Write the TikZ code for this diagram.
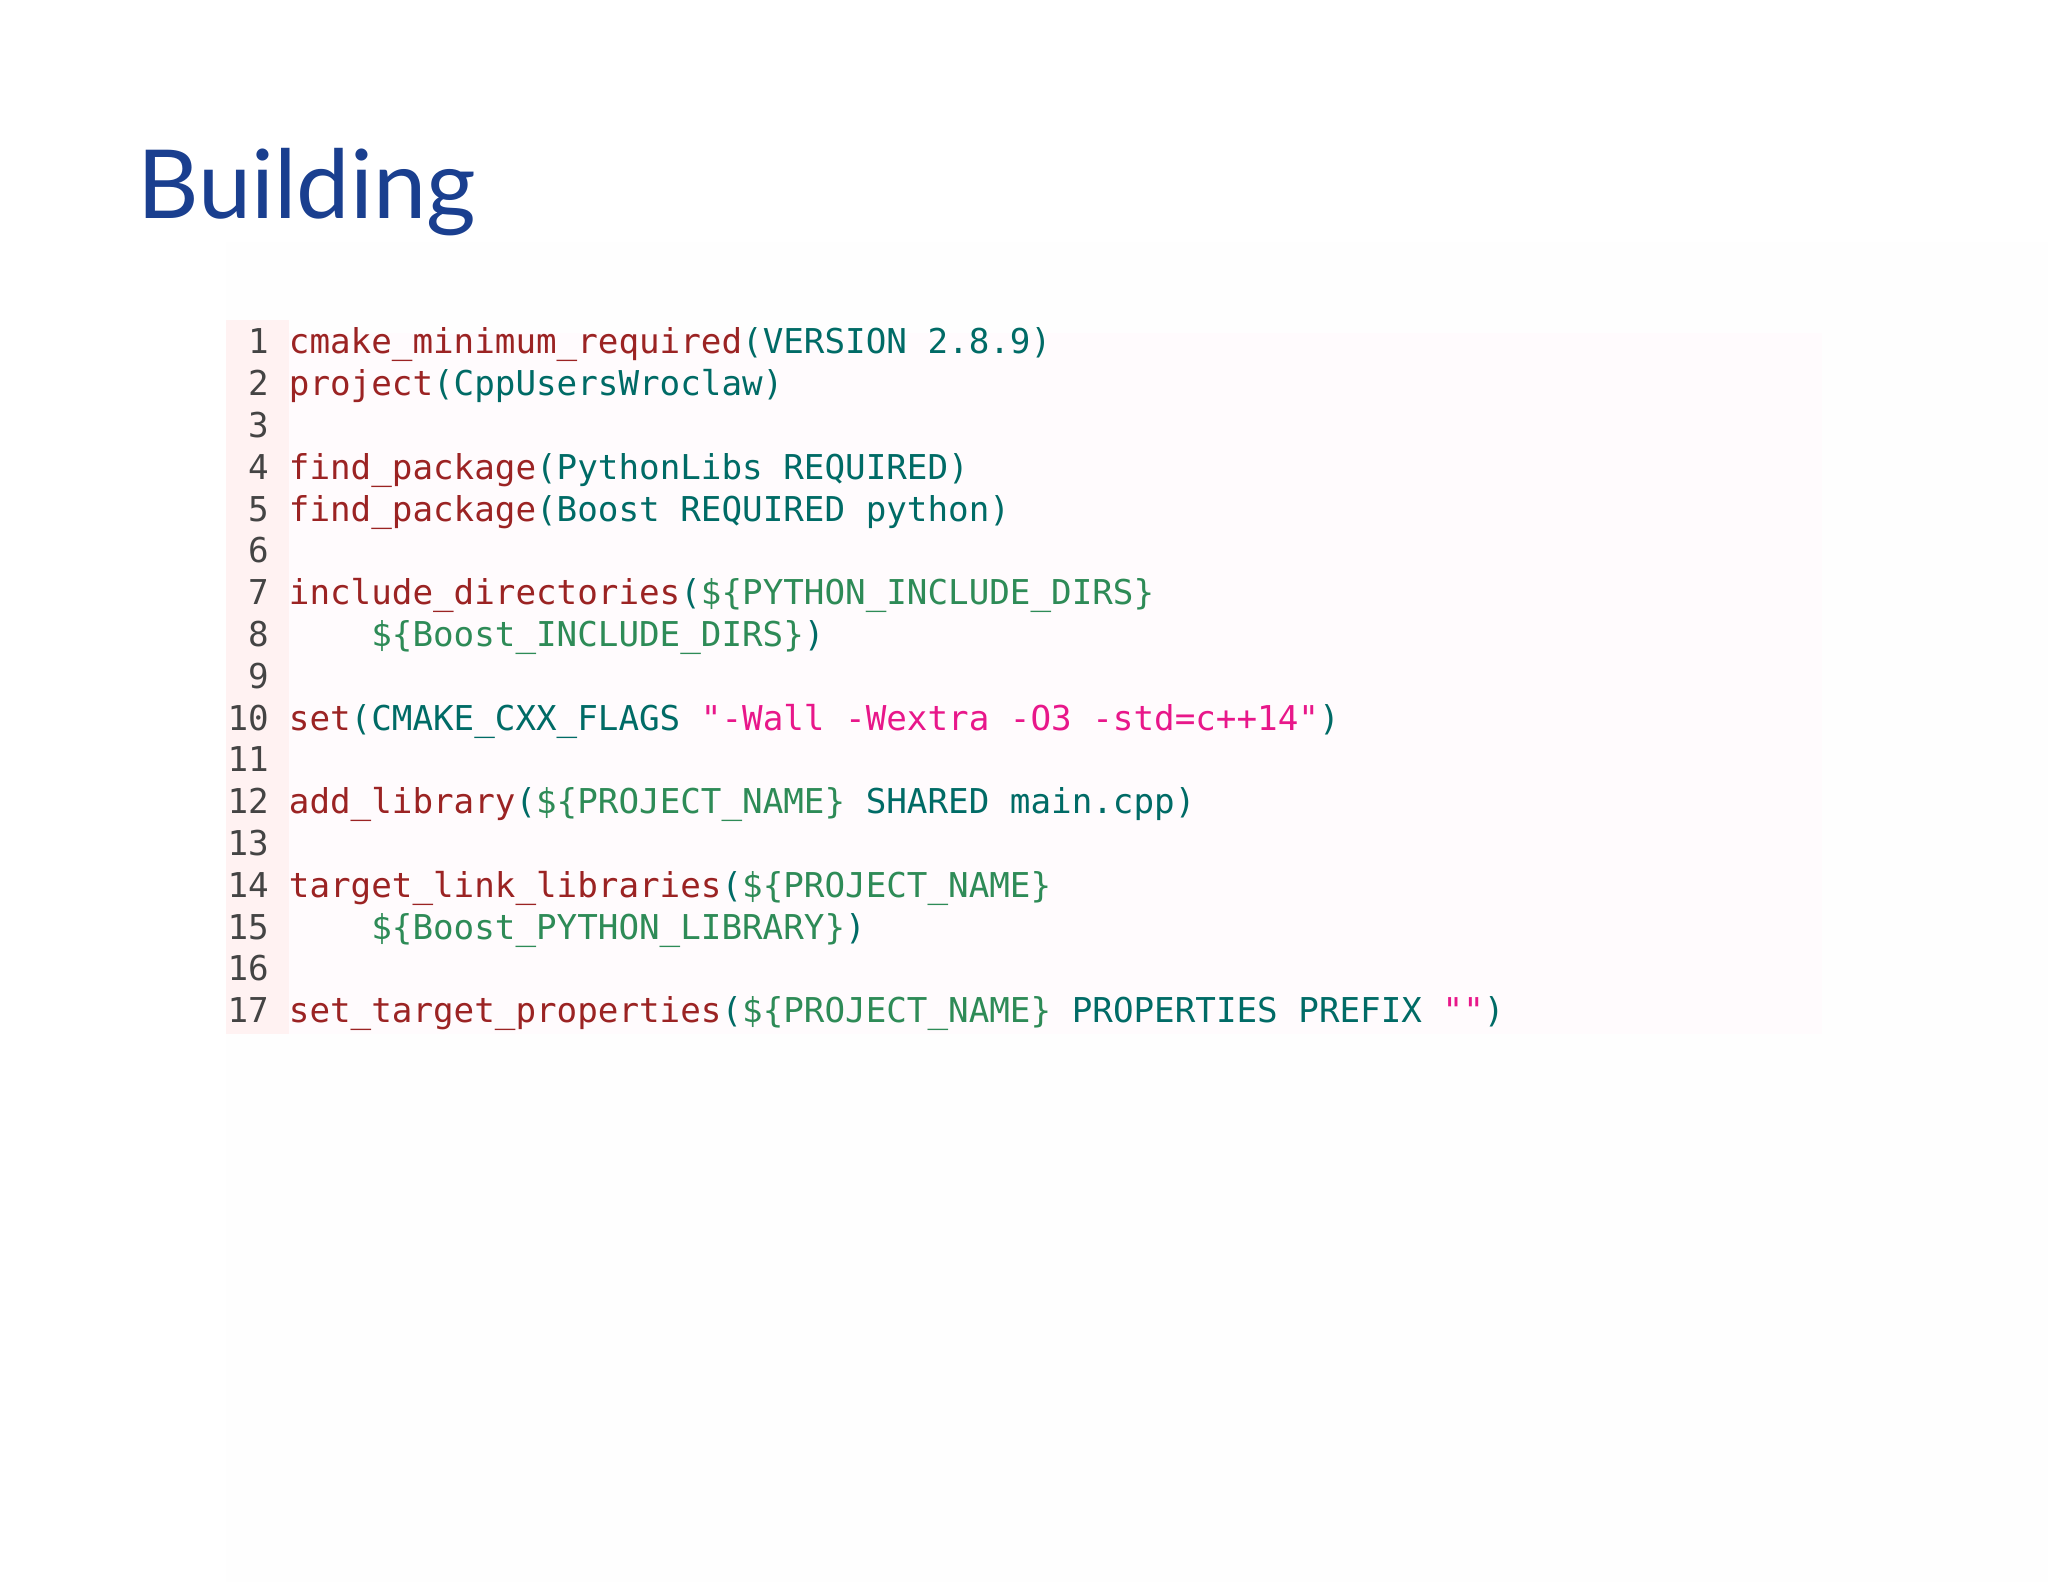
\documentclass[tikz,border=0pt]{standalone}
\usepackage{fontspec}
\setmainfont{Lato}
\newfontfamily\codefont{DejaVu Sans Mono}
\definecolor{kwc}{HTML}{9B2323}
\definecolor{tlc}{HTML}{006B66}
\definecolor{vrc}{HTML}{2E8B57}
\definecolor{stc}{HTML}{E8178A}
\definecolor{lnc}{HTML}{444444}
\definecolor{ttl}{HTML}{1A3F8F}
\newcommand{\Kw}[1]{\textcolor{kwc}{#1}}
\newcommand{\Tl}[1]{\textcolor{tlc}{#1}}
\newcommand{\Vr}[1]{\textcolor{vrc}{#1}}
\newcommand{\St}[1]{\textcolor{stc}{#1}}
\begin{document}
\begin{tikzpicture}[x=1pt,y=1pt,
  codeline/.style={anchor=base west,inner sep=0pt,font=\codefont\fontsize{26.2}{30}\selectfont},
  lnum/.style={anchor=base east,inner sep=0pt,text=lnc,font=\codefont\fontsize{26.2}{30}\selectfont}]
\useasboundingbox (0,0) rectangle (1568,-1211);
\fill[white] (0,0) rectangle (1568,-1211);
\fill[black!0.5] (173,-185) rectangle (1568,-1211);
\fill[magenta!1.5] (221,-255) rectangle (1395,-792);
\fill[red!5] (173,-245) rectangle (221,-792);
\node[anchor=base west,inner sep=0pt,text=ttl,font=\fontsize{73}{80}\selectfont] (title) at (105,-167) {Building};
\foreach \i in {1,...,17} { \node[lnum] (n\i) at (206,{-271-32*(\i-1)}) {\i}; }
\node[codeline] (l1) at (221,-271) {\Kw{cmake\_minimum\_required}\Tl{(VERSION 2.8.9)}};
\node[codeline] (l2) at (221,-303) {\Kw{project}\Tl{(CppUsersWroclaw)}};
\node[codeline] (l4) at (221,-367) {\Kw{find\_package}\Tl{(PythonLibs REQUIRED)}};
\node[codeline] (l5) at (221,-399) {\Kw{find\_package}\Tl{(Boost REQUIRED python)}};
\node[codeline] (l7) at (221,-463) {\Kw{include\_directories}\Tl{(}\Vr{\$\{PYTHON\_INCLUDE\_DIRS\}}};
\node[codeline] (l8) at (221,-495) {\phantom{xxxx}\Vr{\$\{Boost\_INCLUDE\_DIRS\}}\Tl{)}};
\node[codeline] (l10) at (221,-559) {\Kw{set}\Tl{(CMAKE\_CXX\_FLAGS\ }\St{"-Wall -Wextra -O3 -std=c++14"}\Tl{)}};
\node[codeline] (l12) at (221,-623) {\Kw{add\_library}\Tl{(}\Vr{\$\{PROJECT\_NAME\}}\Tl{\ SHARED main.cpp)}};
\node[codeline] (l14) at (221,-687) {\Kw{target\_link\_libraries}\Tl{(}\Vr{\$\{PROJECT\_NAME\}}};
\node[codeline] (l15) at (221,-719) {\phantom{xxxx}\Vr{\$\{Boost\_PYTHON\_LIBRARY\}}\Tl{)}};
\node[codeline] (l17) at (221,-783) {\Kw{set\_target\_properties}\Tl{(}\Vr{\$\{PROJECT\_NAME\}}\Tl{\ PROPERTIES PREFIX\ }\St{""}\Tl{)}};
\end{tikzpicture}
\end{document}
